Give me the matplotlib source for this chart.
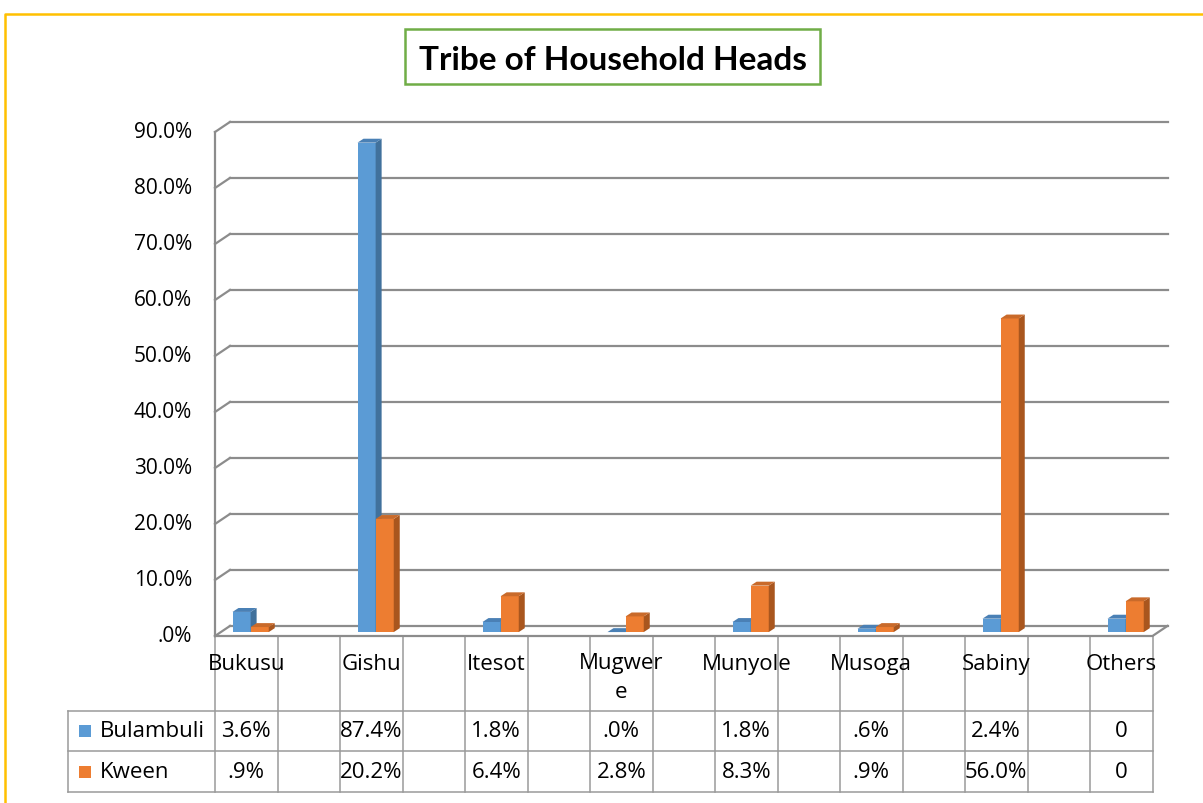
import matplotlib.pyplot as plt
from matplotlib.patches import Rectangle, Polygon

# Data
categories = ['Bukusu', 'Gishu', 'Itesot', 'Mugwer\ne', 'Munyole', 'Musoga', 'Sabiny', 'Others']
bulambuli = [3.6, 87.4, 1.8, 0.0, 1.8, 0.6, 2.4, 2.4]
kween = [0.9, 20.2, 6.4, 2.8, 8.3, 0.9, 56.0, 5.5]
bulambuli_txt = ['3.6%', '87.4%', '1.8%', '.0%', '1.8%', '.6%', '2.4%', '0']
kween_txt = ['.9%', '20.2%', '6.4%', '2.8%', '8.3%', '.9%', '56.0%', '0']
series = ['Bulambuli', 'Kween']
yticks = [0, 10, 20, 30, 40, 50, 60, 70, 80, 90]
ytick_labels = ['.0%', '10.0%', '20.0%', '30.0%', '40.0%', '50.0%', '60.0%', '70.0%', '80.0%', '90.0%']

# Style
FONT = 'Open Sans'
BLUE = ('#5B9BD5', '#41719C', '#4A80B5')     # front, side, top
ORANGE = ('#ED7D31', '#A9561E', '#C96A2A')
GRID = '#8c8c8c'
TABLE = '#9a9a9a'
W, H = 1203, 804

fig = plt.figure(figsize=(W / 100, H / 100), dpi=100, facecolor='white')
ax = fig.add_axes([215 / W, (H - 637) / H, 937.5 / W, 504 / H])
ax.set_xlim(0, 7.5)
ax.set_ylim(0, 90)
ax.axis('off')

ddx, ddy = 0.12, 1.8        # depth of the floor / back wall
bdx, bdy = 0.048, 0.7       # depth of the bars
base = 0.7

# back wall gridlines + left diagonals
for v, lab in zip(yticks, ytick_labels):
    ax.plot([ddx, 7.5 + ddx], [v + ddy, v + ddy], color=GRID, lw=1.6, clip_on=False, zorder=1)
    ax.plot([0, ddx], [v, v + ddy], color=GRID, lw=1.6, clip_on=False, zorder=1)
    ax.text(-0.185, v, lab, ha='right', va='center', fontsize=15, family=FONT, color='#000000')
ax.plot([0, 0], [0, 90], color=GRID, lw=1.6, clip_on=False, zorder=1)
# floor front edge
ax.plot([0, 7.5, 7.5 + ddx], [0, 0, ddy], color=GRID, lw=1.6, clip_on=False, zorder=1)


def bar3d(x0, w, v, cols):
    t = base + v
    ax.add_patch(Rectangle((x0, base), w, v, facecolor=cols[0], edgecolor='none', zorder=3, clip_on=False))
    ax.add_patch(Polygon([(x0 + w, base), (x0 + w + bdx, base + bdy), (x0 + w + bdx, t + bdy), (x0 + w, t)],
                         closed=True, facecolor=cols[1], edgecolor='none', zorder=3, clip_on=False))
    ax.add_patch(Polygon([(x0, t), (x0 + bdx, t + bdy), (x0 + w + bdx, t + bdy), (x0 + w, t)],
                         closed=True, facecolor=cols[2], edgecolor='none', zorder=3, clip_on=False))


bw = 0.145
for i in range(len(categories)):
    bar3d(i + 0.14, bw, bulambuli[i], BLUE)
    bar3d(i + 0.14 + bw, bw, kween[i], ORANGE)

# category labels
for i, c in enumerate(categories):
    if '\n' in c:
        ax.text(i + 0.25, -2.9, c, ha='center', va='top', fontsize=16, family=FONT, linespacing=1.5)
    else:
        ax.text(i + 0.25, -5.0, c, ha='center', va='center', fontsize=16, family=FONT)

# data table
y_top, y_mid, y_bot = -13.4, -20.5, -27.9
x_left = -1.176
for y in (y_top, y_mid, y_bot):
    ax.plot([x_left, 7.5], [y, y], color=TABLE, lw=1.1, clip_on=False)
ax.plot([x_left, x_left], [y_top, y_bot], color=TABLE, lw=1.1, clip_on=False)
for k in range(16):
    x = k * 0.5
    ax.plot([x, x], [0, y_bot], color=TABLE, lw=1.1, clip_on=False, zorder=0)

rows = [(y_top + y_mid) / 2, (y_mid + y_bot) / 2]
for r, (name, cols, txt) in enumerate(zip(series, (BLUE, ORANGE), (bulambuli_txt, kween_txt))):
    yc = rows[r]
    ax.add_patch(Rectangle((-1.088, yc - 1.07), 0.096, 2.14, facecolor=cols[0], edgecolor='none', clip_on=False))
    ax.text(-0.925, yc, name, ha='left', va='center', fontsize=16, family=FONT)
    for i, s in enumerate(txt):
        ax.text(i + 0.25, yc, s, ha='center', va='center', fontsize=16, family=FONT)

# title box
fig.patches.append(Rectangle((405 / W, (H - 85) / H), 415 / W, 55 / H, transform=fig.transFigure,
                             facecolor='white', edgecolor='#70AD47', lw=1.8))
fig.text(613 / W, (H - 60) / H, 'Tribe of Household Heads', ha='center', va='center',
         fontsize=24, fontweight='bold', family='Lato')

# outer frame
fig.add_artist(plt.Line2D([4.5 / W, 4.5 / W, 1.0], [0, (H - 14.5) / H, (H - 14.5) / H],
                          transform=fig.transFigure, color='#FFC000', lw=1.8))

fig.savefig('out.png', dpi=100, facecolor='white')
